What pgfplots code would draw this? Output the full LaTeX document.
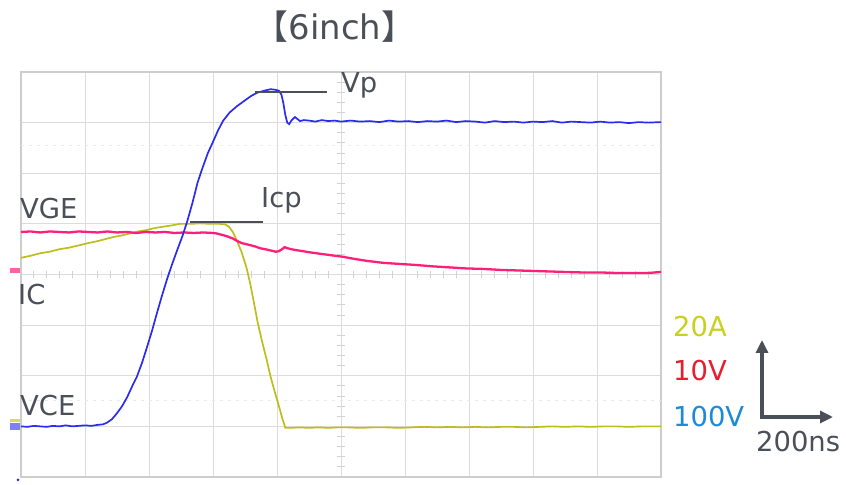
\documentclass[border=0pt]{standalone}
\usepackage{pgfplots}
\pgfplotsset{compat=1.18}
\usepackage{pgfplotstable}
\usetikzlibrary{arrows.meta}
\usepackage{fontspec}
\setmainfont{DejaVu Sans}
\newfontfamily\cjk{Noto Sans CJK JP}
\definecolor{gridc}{HTML}{DCDCDC}
\definecolor{boxc}{HTML}{CDCDCD}
\definecolor{txt}{HTML}{4B5058}
\definecolor{vce}{HTML}{2B2BEE}
\definecolor{vge}{HTML}{FF1F7A}
\definecolor{ic}{HTML}{BDBD1C}
\definecolor{lblY}{HTML}{C8D21E}
\definecolor{lblR}{HTML}{E61E2D}
\definecolor{lblB}{HTML}{1C8AD6}

\pgfplotstableread{
x y
0 1.00
0.1 0.99
0.2 1.01
0.3 1.00
0.4 0.99
0.5 1.01
0.6 1.00
0.7 1.02
0.8 1.00
0.9 1.01
1.0 1.02
1.1 1.01
1.2 1.03
1.28 1.04
1.34 1.07
1.42 1.14
1.5 1.26
1.58 1.40
1.66 1.58
1.74 1.80
1.81 1.98
1.89 2.25
1.97 2.57
2.05 2.90
2.12 3.22
2.20 3.57
2.28 3.90
2.36 4.20
2.44 4.48
2.52 4.75
2.60 5.06
2.68 5.42
2.76 5.82
2.84 6.12
2.92 6.40
3.00 6.62
3.08 6.85
3.16 7.04
3.26 7.20
3.37 7.32
3.50 7.44
3.60 7.53
3.69 7.59
3.80 7.63
3.90 7.66
3.97 7.65
4.03 7.63
4.07 7.55
4.10 7.38
4.13 7.15
4.16 7.00
4.19 6.97
4.23 7.05
4.28 7.11
4.32 7.07
4.36 7.03
4.42 7.05
4.50 7.04
4.60 7.02
4.70 7.05
4.80 7.03
4.90 7.04
5.00 7.02
5.15 7.04
5.30 7.02
5.45 7.03
5.60 7.01
5.75 7.04
5.90 7.02
6.05 7.03
6.20 7.01
6.35 7.03
6.50 7.02
6.65 7.04
6.80 7.01
6.95 7.03
7.10 7.02
7.25 7.00
7.40 7.03
7.55 7.01
7.70 7.02
7.85 7.00
8.00 7.02
8.15 7.01
8.30 7.03
8.45 7.00
8.60 7.02
8.75 7.01
8.90 7.00
9.05 7.02
9.20 7.00
9.35 7.01
9.50 6.99
9.65 7.01
9.80 7.00
10.0 7.01
}\vcedata

\pgfplotstableread{
x y
0 4.33
0.15 4.37
0.30 4.42
0.45 4.45
0.60 4.50
0.75 4.53
0.92 4.58
1.05 4.62
1.20 4.66
1.32 4.70
1.44 4.74
1.57 4.77
1.70 4.81
1.83 4.85
1.97 4.88
2.10 4.92
2.25 4.95
2.36 4.97
2.48 5.00
2.65 5.00
2.80 5.01
2.95 5.00
3.10 5.00
3.19 4.99
3.25 4.94
3.31 4.84
3.38 4.65
3.45 4.43
3.52 4.15
3.58 3.83
3.64 3.44
3.70 3.04
3.77 2.66
3.84 2.31
3.90 1.98
3.97 1.66
4.03 1.40
4.08 1.17
4.13 0.97
4.20 0.97
4.35 0.98
4.50 0.97
4.65 0.98
4.80 0.97
4.95 0.98
5.10 0.98
5.30 0.97
5.50 0.98
5.70 0.98
5.90 0.97
6.10 0.98
6.30 0.99
6.50 0.98
6.70 0.99
6.90 0.98
7.10 0.99
7.30 0.98
7.50 0.99
7.70 0.99
7.90 0.98
8.10 0.99
8.30 1.00
8.50 0.99
8.70 1.00
8.90 0.99
9.10 1.00
9.30 1.00
9.50 0.99
9.70 1.00
10.0 1.00
}\icdata

\pgfplotstableread{
x y
0 4.84
0.15 4.85
0.30 4.83
0.45 4.85
0.60 4.84
0.75 4.83
0.90 4.85
1.05 4.84
1.20 4.83
1.35 4.85
1.50 4.83
1.65 4.84
1.80 4.82
1.95 4.84
2.10 4.83
2.25 4.84
2.40 4.82
2.55 4.83
2.70 4.82
2.85 4.83
3.00 4.82
3.06 4.81
3.15 4.78
3.23 4.75
3.31 4.71
3.38 4.66
3.45 4.62
3.55 4.59
3.67 4.55
3.73 4.52
3.85 4.49
3.98 4.45
4.03 4.46
4.08 4.50
4.12 4.54
4.16 4.52
4.22 4.50
4.30 4.48
4.36 4.47
4.50 4.44
4.67 4.41
4.85 4.38
5.03 4.35
5.20 4.31
5.40 4.27
5.66 4.23
5.90 4.21
6.15 4.19
6.44 4.16
6.70 4.14
6.95 4.12
7.22 4.11
7.50 4.09
7.75 4.08
8.00 4.07
8.25 4.06
8.50 4.05
8.78 4.04
9.05 4.04
9.30 4.03
9.56 4.03
9.80 4.03
10.0 4.05
}\vgedata

\begin{document}
\begin{tikzpicture}[x=1bp,y=1bp]
\useasboundingbox (0,0) rectangle (846,485);
\begin{axis}[
  at={(21bp,8bp)}, anchor=south west,
  scale only axis, width=640bp, height=405bp,
  xmin=0, xmax=10, ymin=0, ymax=8,
  xtick={1,...,9}, ytick={1,...,7},
  xticklabels={}, yticklabels={},
  major tick length=0pt,
  grid=major,
  grid style={draw=gridc, line width=1pt},
  axis line style={draw=boxc, line width=1.2pt},
  clip=false,
]
% faint dotted cursor lines
\draw[gridc!60, line width=1pt, dash pattern=on 3pt off 5pt] (axis cs:0,6.54) -- (axis cs:10,6.54);
\draw[gridc!60, line width=1pt, dash pattern=on 3pt off 5pt] (axis cs:0,1.52) -- (axis cs:10,1.52);
% center-line minor ticks
\pgfplotsinvokeforeach{0.2,0.4,0.6,0.8,1.2,1.4,1.6,1.8,2.2,2.4,2.6,2.8,3.2,3.4,3.6,3.8,4.2,4.4,4.6,4.8,5.2,5.4,5.6,5.8,6.2,6.4,6.6,6.8,7.2,7.4,7.6,7.8,8.2,8.4,8.6,8.8,9.2,9.4,9.6,9.8}{
  \draw[gridc!130, line width=0.8pt] (axis cs:#1,3.93) -- (axis cs:#1,4.07);
}
\pgfplotsinvokeforeach{0.2,0.4,0.6,0.8,1.2,1.4,1.6,1.8,2.2,2.4,2.6,2.8,3.2,3.4,3.6,3.8,4.2,4.4,4.6,4.8,5.2,5.4,5.6,5.8,6.2,6.4,6.6,6.8,7.2,7.4,7.6,7.8}{
  \draw[gridc!130, line width=0.8pt] (axis cs:4.93,#1) -- (axis cs:5.07,#1);
}
\addplot[ic, line width=1.7pt] table[x=x,y=y] {\icdata};
\addplot[vge, line width=2.3pt] table[x=x,y=y] {\vgedata};
\addplot[vce, line width=1.7pt] table[x=x,y=y] {\vcedata};
% annotation lines
\draw[txt, line width=1.8pt] (axis cs:3.66,7.61) -- (axis cs:4.78,7.61);
\draw[txt, line width=1.8pt] (axis cs:2.64,5.04) -- (axis cs:3.78,5.04);
\end{axis}
% channel markers
\fill[vge!70] (10,212) rectangle (20,217);
\fill[ic!60] (10,63) rectangle (20,66);
\fill[vce!60] (10,55) rectangle (20,62);
\fill[vce] (18,5) circle (1.5);
% texts
\fontsize{27.5}{30}\selectfont
\node[anchor=base, inner sep=0, text=txt] at (335,445) {\fontsize{34}{38}\selectfont{\cjk 【}6inch{\cjk 】}};
\node[anchor=base west, inner sep=0, text=txt] at (341,392) {Vp};
\node[anchor=base west, inner sep=0, text=txt] at (261,277) {Icp};
\node[anchor=base west, inner sep=0, text=txt] at (20,266) {VGE};
\node[anchor=base west, inner sep=0, text=txt] at (18,180) {IC};
\node[anchor=base west, inner sep=0, text=txt] at (20,69) {VCE};
\node[anchor=base west, inner sep=0, text=lblY] at (673,148) {20A};
\node[anchor=base west, inner sep=0, text=lblR] at (673,104) {10V};
\node[anchor=base west, inner sep=0, text=lblB] at (673,58) {100V};
\node[anchor=base west, inner sep=0, text=txt] at (756,33) {200ns};
\draw[txt, line width=3.2pt, -{Triangle[width=12pt,length=13pt]}] (762,68) -- (762,145);
\draw[txt, line width=3.2pt, -{Triangle[width=12pt,length=13pt]}] (760.4,68) -- (833,68);
\end{tikzpicture}
\end{document}
